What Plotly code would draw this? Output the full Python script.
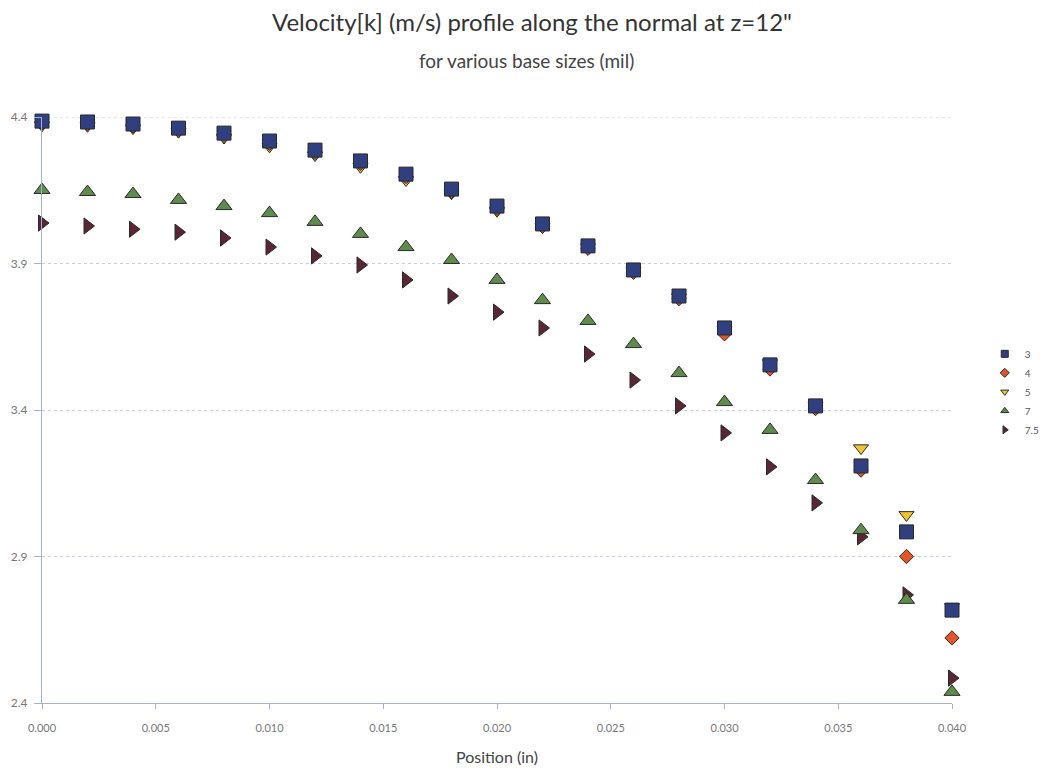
import plotly.graph_objects as go

positions = [0.000, 0.002, 0.004, 0.006, 0.008, 0.010, 0.012, 0.014, 0.016, 0.018,
             0.020, 0.022, 0.024, 0.026, 0.028, 0.030, 0.032, 0.034, 0.036, 0.038, 0.040]

v_3 = [4.386, 4.383, 4.376, 4.362, 4.345, 4.318, 4.287, 4.250, 4.205, 4.154,
       4.096, 4.035, 3.960, 3.878, 3.789, 3.680, 3.554, 3.414, 3.209, 2.984, 2.717]
v_4 = [4.380, 4.377, 4.369, 4.355, 4.337, 4.310, 4.279, 4.242, 4.197, 4.146,
       4.088, 4.027, 3.952, 3.870, 3.780, 3.660, 3.540, 3.405, 3.195, 2.900, 2.622]
v_5 = [4.372, 4.370, 4.362, 4.350, 4.330, 4.300, 4.270, 4.230, 4.185, 4.140,
       4.080, 4.025, 3.955, 3.875, 3.785, 3.675, 3.560, 3.415, 3.270, 3.042, 2.728]
v_7 = [4.151, 4.144, 4.137, 4.117, 4.096, 4.072, 4.042, 4.001, 3.956, 3.912,
       3.844, 3.775, 3.704, 3.625, 3.526, 3.427, 3.332, 3.161, 2.990, 2.752, 2.438]
v_75 = [4.038, 4.028, 4.017, 4.007, 3.987, 3.956, 3.926, 3.895, 3.844, 3.789,
        3.734, 3.680, 3.591, 3.502, 3.414, 3.322, 3.206, 3.083, 2.967, 2.769, 2.485]

series_names = ["3", "4", "5", "7", "7.5"]
series_values = [v_3, v_4, v_5, v_7, v_75]
symbols = ["square", "diamond", "triangle-down", "triangle-up", "triangle-right"]
colors = ["#2f3f80", "#e0552c", "#f0c530", "#5e8c4c", "#5a2634"]
sizes = [14, 11, 13, 14, 14]

x_ticks = [0.000, 0.005, 0.010, 0.015, 0.020, 0.025, 0.030, 0.035, 0.040]
y_ticks = [2.4, 2.9, 3.4, 3.9, 4.4]

fig = go.Figure()

# draw in reverse so squares end up on top
for i in reversed(range(len(series_names))):
    fig.add_trace(go.Scatter(
        x=positions, y=series_values[i], mode="markers", name=series_names[i],
        marker=dict(symbol=symbols[i], size=sizes[i], color=colors[i],
                    line=dict(color="#2a2a2a", width=1)),
        cliponaxis=False, showlegend=False))

# small legend markers
for i in range(len(series_names)):
    fig.add_trace(go.Scatter(
        x=[None], y=[None], mode="markers", name=series_names[i],
        marker=dict(symbol=symbols[i], size=7, color=colors[i],
                    line=dict(color="#2a2a2a", width=1)),
        showlegend=True))

fig.update_layout(
    width=1040, height=769,
    margin=dict(l=42, r=88, t=117, b=66, autoexpand=False),
    plot_bgcolor="white", paper_bgcolor="white",
    font=dict(family="Lato, sans-serif", color="#555"),
    legend=dict(x=1.036, y=0.531, xanchor="left", yanchor="middle",
                font=dict(size=10, color="#555"), tracegroupgap=0,
                bgcolor="rgba(0,0,0,0)"),
)

fig.add_annotation(text="Velocity[k] (m/s) profile along the normal at z=12\"",
                   xref="paper", yref="paper", x=(532 - 42) / 910, y=1 + (117 - 22) / 586,
                   xanchor="center", yanchor="middle",
                   showarrow=False, font=dict(size=24, color="#333"))
fig.add_annotation(text="for various base sizes (mil)",
                   xref="paper", yref="paper", x=(526 - 42) / 910, y=1 + (117 - 60) / 586,
                   xanchor="center", yanchor="middle",
                   showarrow=False, font=dict(size=19, color="#444"))

# top gridline at the last y tick
fig.add_shape(type="line", xref="paper", yref="y", x0=0, x1=1,
              y0=y_ticks[-1], y1=y_ticks[-1],
              line=dict(color="#c9cde2", width=1, dash="dot"), layer="below")

fig.update_xaxes(
    range=[0, 0.040], tickvals=x_ticks, tickformat=".3f",
    showgrid=False, zeroline=False,
    showline=True, linecolor="#a8b0d0", linewidth=1,
    ticks="outside", ticklen=5, tickcolor="#a8b0d0",
    tickfont=dict(size=11, color="#777"), ticklabelstandoff=10,
    title=dict(text="Position (in)", font=dict(size=16, color="#444"), standoff=18),
)
fig.update_yaxes(
    range=[2.4, 4.4], tickvals=y_ticks, tickformat=".1f",
    showgrid=True, gridcolor="#c9cde2", griddash="dot", gridwidth=1,
    zeroline=False,
    showline=True, linecolor="#a8b0d0", linewidth=1,
    ticks="outside", ticklen=7, tickcolor="#a8b0d0",
    tickfont=dict(size=12, color="#777"), ticklabelstandoff=4,
)

fig.write_html("out.html")
